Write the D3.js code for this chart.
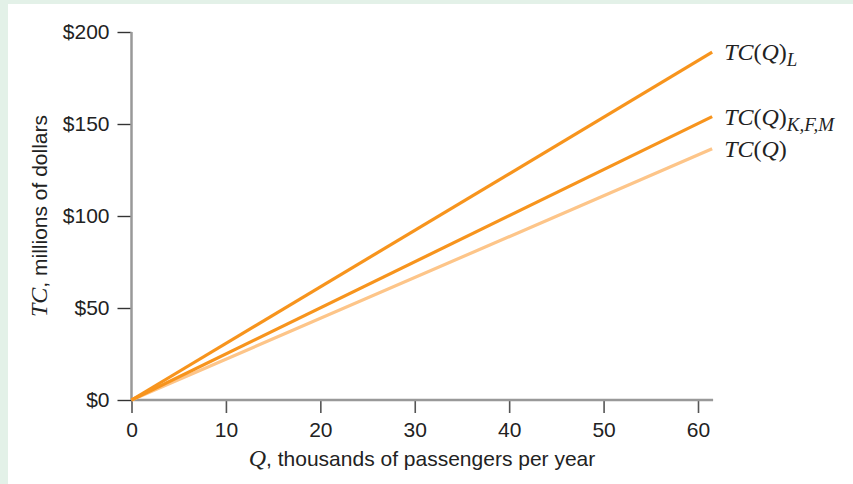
<!DOCTYPE html>
<html><head><meta charset="utf-8">
<script src="https://cdn.jsdelivr.net/npm/d3@7"></script>
<style>
html,body{margin:0;padding:0;background:#e3f1e8;}
svg{display:block;}
</style></head>
<body>
<svg id="chart" width="853" height="484"></svg>
<script>
const xTicks = [0, 10, 20, 30, 40, 50, 60];
const yTicks = [0, 50, 100, 150, 200];
const qValues = [0, 61.5];
const tcL = [0, 189];
const tcKFM = [0, 154];
const tcBase = [0, 136.5];

const svg = d3.select("#chart");
svg.append("rect").attr("x", 8).attr("y", 4).attr("width", 845).attr("height", 480).attr("fill", "#ffffff");

const x = d3.scaleLinear().domain([0, 60]).range([131.5, 698]);
const y = d3.scaleLinear().domain([0, 200]).range([400, 32]);
const sans = "Liberation Sans, Arial, Helvetica, sans-serif";
const serif = "Liberation Serif, Times New Roman, serif";

// x axis
const xAxis = svg.append("g").attr("transform", "translate(0,400)")
  .call(d3.axisBottom(x).tickValues(xTicks).tickSize(13).tickPadding(9).tickFormat(d3.format("d")));
xAxis.select(".domain").remove();
xAxis.selectAll(".tick line").attr("stroke", "#555").attr("stroke-width", 1.6);
xAxis.selectAll(".tick text").style("font-family", sans).style("font-size", "21px").attr("fill", "#222");

// y axis
const yAxis = svg.append("g").attr("transform", "translate(131.5,0)")
  .call(d3.axisLeft(y).tickValues(yTicks).tickSize(14).tickPadding(8).tickFormat(d => "$" + d));
yAxis.select(".domain").remove();
yAxis.selectAll(".tick line").attr("stroke", "#333").attr("stroke-width", 1.4);
yAxis.selectAll(".tick text").style("font-family", sans).style("font-size", "21px").attr("fill", "#222");

// axis lines
svg.append("line").attr("x1", x(0)).attr("x2", x(0)).attr("y1", y(200)).attr("y2", y(0))
  .attr("stroke", "#999").attr("stroke-width", 2.5);
svg.append("line").attr("x1", x(0)).attr("x2", x(61.6)).attr("y1", y(0)).attr("y2", y(0))
  .attr("stroke", "#999").attr("stroke-width", 2.5);

// lines
const line = d3.line().x((d, i) => x(qValues[i])).y(d => y(d));
const series = [
  {vals: tcBase, color: "#fdc589", sub: ""},
  {vals: tcKFM, color: "#f7941d", sub: "K,F,M"},
  {vals: tcL, color: "#f7941d", sub: "L"}
];
series.forEach(s => {
  svg.append("path").attr("d", line(s.vals)).attr("fill", "none")
    .attr("stroke", s.color).attr("stroke-width", 3.2).attr("stroke-linecap", "butt");
});

// labels
series.forEach(s => {
  const lx = x(qValues[1]) + 12;
  const ly = y(s.vals[1]) + 8;
  const t = svg.append("text").attr("x", lx).attr("y", ly)
    .style("font-family", serif).style("font-size", "24px").attr("fill", "#222");
  t.append("tspan").attr("font-style", "italic").text("TC");
  t.append("tspan").text("(");
  t.append("tspan").attr("font-style", "italic").text("Q");
  t.append("tspan").text(")");
  if (s.sub) {
    t.append("tspan").attr("font-style", "italic").style("font-size", "19px").attr("dy", 6).text(s.sub);
  }
});

// axis titles
const xt = svg.append("text").attr("x", 422).attr("y", 466).attr("text-anchor", "middle")
  .style("font-family", sans).style("font-size", "21px").attr("fill", "#222");
xt.append("tspan").style("font-family", serif).attr("font-style", "italic").style("font-size", "24px").text("Q");
xt.append("tspan").text(", thousands of passengers per year");

const yt = svg.append("text").attr("transform", "translate(47,216) rotate(-90)").attr("text-anchor", "middle")
  .style("font-family", sans).style("font-size", "21px").attr("fill", "#222");
yt.append("tspan").style("font-family", serif).attr("font-style", "italic").style("font-size", "24px").text("TC");
yt.append("tspan").text(", millions of dollars");
</script>
</body></html>
